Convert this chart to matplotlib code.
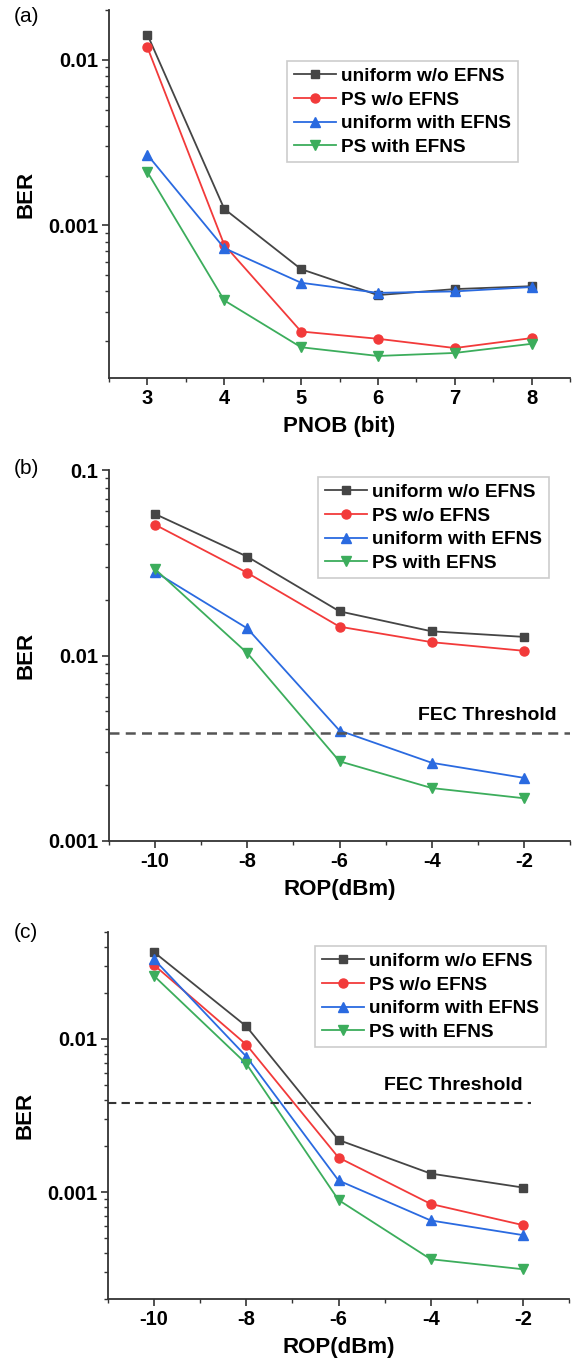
import matplotlib
matplotlib.use("Agg")
import matplotlib.pyplot as plt
from matplotlib.ticker import LogLocator, FixedLocator, MultipleLocator, NullFormatter, FuncFormatter

plt.rcParams['font.family'] = ['Liberation Sans', 'DejaVu Sans']
plt.rcParams['font.weight'] = 'bold'
plt.rcParams['axes.unicode_minus'] = False

series_names = ["uniform w/o EFNS", "PS w/o EFNS", "uniform with EFNS", "PS with EFNS"]

# Panel (a)
pnob = [3, 4, 5, 6, 7, 8]
a_uni_wo = [0.0142, 0.00126, 0.000545, 0.000380, 0.000413, 0.000430]
a_ps_wo = [0.0119, 0.000764, 0.000229, 0.000207, 0.000182, 0.000209]
a_uni_w = [0.00267, 0.000730, 0.000451, 0.000392, 0.000400, 0.000425]
a_ps_w = [0.00210, 0.000353, 0.000184, 0.000163, 0.000170, 0.000193]

# Panel (b)
rop = [-10, -8, -6, -4, -2]
b_uni_wo = [0.0579, 0.0341, 0.0173, 0.0135, 0.0126]
b_ps_wo = [0.0507, 0.0279, 0.0143, 0.0118, 0.0106]
b_uni_w = [0.0282, 0.0140, 0.00394, 0.00264, 0.00219]
b_ps_w = [0.0292, 0.0103, 0.00269, 0.00193, 0.00170]

# Panel (c)
c_uni_wo = [0.0369, 0.0121, 0.00219, 0.00132, 0.00107]
c_ps_wo = [0.0304, 0.00919, 0.00168, 0.000836, 0.000608]
c_uni_w = [0.0331, 0.00768, 0.00119, 0.000652, 0.000523]
c_ps_w = [0.0258, 0.00689, 0.000887, 0.000364, 0.000313]

fec = 3.8e-3

colors = ["#454545", "#f23a3a", "#2a6ae0", "#3cad5c"]
markers = ["s", "o", "^", "v"]
msizes = [5.5, 6.5, 6.5, 6.5]

W, H = 573, 1363
fig = plt.figure(figsize=(W / 100, H / 100), dpi=100)


def ax_rect(left, right, top, bottom):
    return [left / W, 1 - bottom / H, (right - left) / W, (bottom - top) / H]


def fmt(v, pos):
    if v >= 0.1 - 1e-9:
        return "0.1"
    if abs(v - 0.01) < 1e-9:
        return "0.01"
    if abs(v - 0.001) < 1e-10:
        return "0.001"
    return ""


def style(ax):
    ax.set_yscale("log")
    for s in ["top", "right"]:
        ax.spines[s].set_visible(False)
    for s in ["left", "bottom"]:
        ax.spines[s].set_color("#333333")
        ax.spines[s].set_linewidth(1.3)
    ax.yaxis.set_major_locator(LogLocator(base=10, numticks=10))
    ax.yaxis.set_major_formatter(FuncFormatter(fmt))
    ax.yaxis.set_minor_locator(LogLocator(base=10, subs=range(2, 10), numticks=20))
    ax.yaxis.set_minor_formatter(NullFormatter())
    ax.tick_params(which="major", direction="out", length=5, width=1.2, color="#333333",
                   labelsize=14.5, pad=3)
    ax.tick_params(which="minor", direction="out", length=3, width=1.0, color="#333333")
    for lab in ax.get_xticklabels() + ax.get_yticklabels():
        lab.set_fontweight("bold")
    ax.set_ylabel("BER", fontsize=16, fontweight="bold", labelpad=8)


def draw(ax, x, ys):
    handles = []
    for y, c, m, ms, name in zip(ys, colors, markers, msizes, series_names):
        h, = ax.plot(x, y, color=c, marker=m, markersize=ms, linewidth=1.3,
                     markeredgecolor=c, label=name)
        handles.append(h)
    return handles


def legend(ax, bx, by):
    leg = ax.legend(loc="upper left", bbox_to_anchor=(bx, by),
                    prop={"weight": "bold", "size": 13.7}, frameon=True, fancybox=False,
                    edgecolor="#c0c0c0", handlelength=2.2, handletextpad=0.3,
                    labelspacing=0.33, borderpad=0.35, borderaxespad=0)
    leg.get_frame().set_linewidth(1.2)
    return leg


# (a)
axa = fig.add_axes(ax_rect(109, 570, 10, 378))
draw(axa, pnob, [a_uni_wo, a_ps_wo, a_uni_w, a_ps_w])
axa.set_xlim(2.5, 8.5)
axa.set_ylim(1.2e-4, 0.02)
axa.xaxis.set_major_locator(FixedLocator(pnob))
axa.xaxis.set_minor_locator(MultipleLocator(0.5))
style(axa)
axa.set_xlabel("PNOB (bit)", fontsize=16, fontweight="bold", labelpad=6)
legend(axa, (287 - 109) / 461, (378 - 61) / 368)
fig.text(14 / W, 1 - 16 / H, "(a)", fontsize=15, fontweight="normal", va="center", ha="left")

# (b)
axb = fig.add_axes(ax_rect(109, 570, 470, 841))
draw(axb, rop, [b_uni_wo, b_ps_wo, b_uni_w, b_ps_w])
axb.plot([-11, -1], [fec, fec], color="#555555", linestyle=(0, (4, 2.5)), linewidth=1.8)
axb.text(-1.28, fec * 1.12, "FEC Threshold", ha="right", va="bottom", fontsize=14,
         fontweight="bold")
axb.set_xlim(-11, -1)
axb.set_ylim(0.001, 0.1)
axb.xaxis.set_major_locator(FixedLocator(rop))
axb.xaxis.set_minor_locator(MultipleLocator(1))
style(axb)
axb.set_xlabel("ROP(dBm)", fontsize=16, fontweight="bold", labelpad=6)
legend(axb, (318 - 109) / 461, (841 - 477) / 371)
fig.text(14 / W, 1 - 468 / H, "(b)", fontsize=15, fontweight="normal", va="center", ha="left")

# (c)
axc = fig.add_axes(ax_rect(108, 569, 932, 1299))
draw(axc, rop, [c_uni_wo, c_ps_wo, c_uni_w, c_ps_w])
axc.plot([-11, -1.82], [fec, fec], color="#333333", linestyle=(0, (4, 2.5)), linewidth=1.5)
axc.text(-2.0, fec * 1.15, "FEC Threshold", ha="right", va="bottom", fontsize=14,
         fontweight="bold")
axc.set_xlim(-11, -1)
axc.set_ylim(2e-4, 0.05)
axc.xaxis.set_major_locator(FixedLocator(rop))
axc.xaxis.set_minor_locator(MultipleLocator(1))
style(axc)
axc.set_xlabel("ROP(dBm)", fontsize=16, fontweight="bold", labelpad=6)
legend(axc, (315 - 108) / 461, (1299 - 946) / 367)
fig.text(14 / W, 1 - 933 / H, "(c)", fontsize=15, fontweight="normal", va="center", ha="left")

fig.savefig("out.png", dpi=100)
